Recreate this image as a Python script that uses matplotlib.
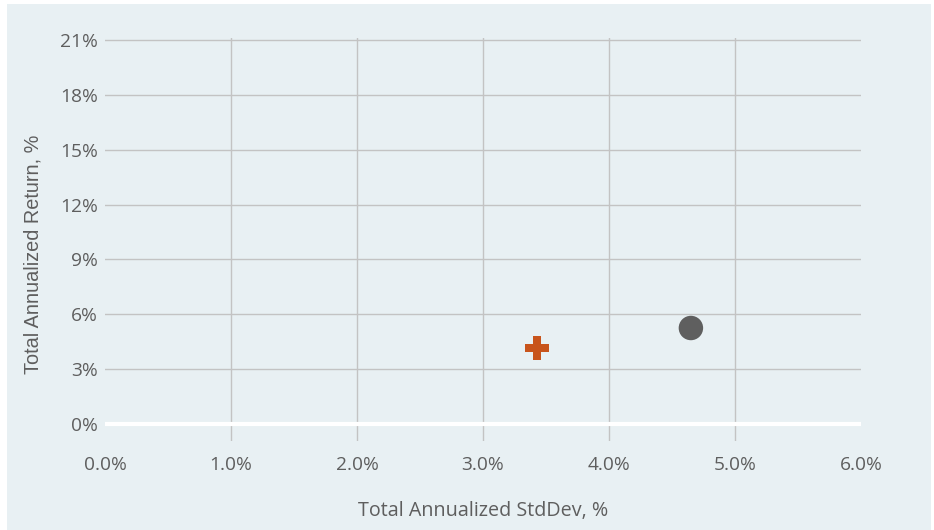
import matplotlib
matplotlib.use("Agg")
import matplotlib.pyplot as plt
from matplotlib.patches import Rectangle

# Data
names = ["Portfolio", "Benchmark"]
stddev = [3.43, 4.65]      # Total annualized std dev, %
returns = [4.17, 5.25]     # Total annualized return, %
markers = ["P", "o"]
colors = ["#C8541B", "#5F5F5F"]
sizes = [300, 310]

x_ticks = [0, 1, 2, 3, 4, 5, 6]
y_ticks = [0, 3, 6, 9, 12, 15, 18, 21]

W, H = 934, 530
fig = plt.figure(figsize=(W / 100, H / 100), dpi=100)
fig.patch.set_facecolor("white")
bg = "#E8F0F3"
fig.patches.append(Rectangle((7 / W, 0), (931 - 7) / W, (H - 4) / H,
                             transform=fig.transFigure, facecolor=bg,
                             edgecolor="none", zorder=-10))

# axes: x from 105 to 861 px, y from 38 to 441 px (top-origin)
ax = fig.add_axes([105 / W, 1 - 441 / H, (861 - 105) / W, (441 - 38) / H])
ax.set_facecolor("none")
ax.set_xlim(0, 6)
px_per_unit = (424 - 40) / 21.0
ymin = -(441 - 424) / px_per_unit
ymax = 21 + (40 - 38) / px_per_unit
ax.set_ylim(ymin, ymax)

for s in ax.spines.values():
    s.set_visible(False)

grid_c = "#C3C3C3"
for xv in x_ticks[1:-1]:
    ax.axvline(xv, color=grid_c, lw=1.0, zorder=1)
for yv in y_ticks[1:]:
    ax.axhline(yv, color=grid_c, lw=1.0, zorder=1)
ax.axhline(0, color="white", lw=3, zorder=2, solid_capstyle="round")

for xs, ys, m, c, sz in zip(stddev, returns, markers, colors, sizes):
    ax.scatter([xs], [ys], marker=m, s=sz, color=c, edgecolors="none", zorder=5)

ax.set_xticks(x_ticks)
ax.set_xticklabels([f"{v:.1f}%" for v in x_ticks])
ax.set_yticks(y_ticks)
ax.set_yticklabels([f"{v}%" for v in y_ticks])
ax.tick_params(length=0, colors="#5E5E5E", labelsize=13.8)
ax.tick_params(axis="x", pad=11)
ax.tick_params(axis="y", pad=5)
for lab in ax.get_xticklabels() + ax.get_yticklabels():
    lab.set_family("Open Sans")

fig.text(483 / W, 1 - 511 / H, "Total Annualized StdDev, %", ha="center", va="center",
         color="#5E5E5E", fontsize=14.2, family="Open Sans")
fig.text(33 / W, 1 - 254 / H, "Total Annualized Return, %", ha="center", va="center",
         rotation=90, color="#5E5E5E", fontsize=14.3, family="Liberation Sans")

fig.savefig("out.png", dpi=100, facecolor="white")
